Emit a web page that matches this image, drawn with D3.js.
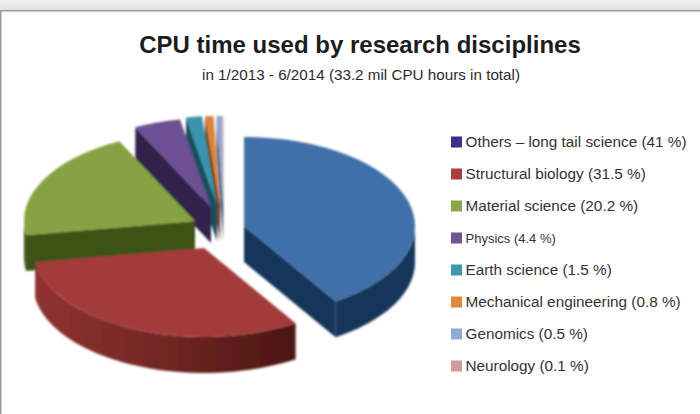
<!DOCTYPE html>
<html>
<head>
<meta charset="utf-8">
<script src="https://cdn.jsdelivr.net/npm/d3@7"></script>
<style>
    html, body { margin: 0; padding: 0; background: #fff; }
    svg { display: block; }
    text { font-family: "Liberation Sans", Arial, sans-serif; }
</style>
</head>
<body>
<svg width="700" height="414"></svg>
<script>
// Chart data
var categories = ["Others \u2013 long tail science", "Structural biology", "Material science", "Physics",
    "Earth science", "Mechanical engineering", "Genomics", "Neurology"];
var shares = [41, 31.5, 20.2, 4.4, 1.5, 0.8, 0.5, 0.1];
var legendColors = ["#3b2f8e", "#a83f3d", "#8aa64a", "#725495", "#3f97af", "#df873b", "#92a9d2", "#d39a99"];
var topColors = ["#3f6fa9", "#a33b3a", "#87a243", "#6d4f93", "#3a93ad", "#dc8238", "#8fa8d0", "#d19392"];
var wallColors = ["#17345a", "url(#redWall)", "#3e5219", "#32214c", "#174f5e", "#6d3f12", "#44587c", "#6d4645"];

// Each slice was pulled out of the pie by hand in the original, so each has its own apex
var apexX = [244, 204, 195, 211, 217, 220, 223, 223.5];
var apexY = [226, 248, 221, 207, 205, 205, 205, 205];

// Pie geometry
var rx = 171;
var ry = 89;
var depth = 36;

var svg = d3.select("svg");

var defs = svg.append("defs");
var redWall = defs.append("linearGradient").attr("id", "redWall");
redWall.append("stop").attr("offset", "0%").attr("stop-color", "#8f3331");
redWall.append("stop").attr("offset", "45%").attr("stop-color", "#742826");
redWall.append("stop").attr("offset", "100%").attr("stop-color", "#4c1512");
defs.append("filter").attr("id", "soft")
    .append("feGaussianBlur").attr("stdDeviation", 1);

var topBand = defs.append("linearGradient").attr("id", "topBand").attr("x2", 0).attr("y2", 1);
topBand.append("stop").attr("offset", "0%").attr("stop-color", "#f1f1f1");
topBand.append("stop").attr("offset", "100%").attr("stop-color", "#e0e0e0");

// Frame of the slide
svg.append("rect").attr("width", 700).attr("height", 10).attr("fill", "url(#topBand)");
svg.append("rect").attr("y", 10).attr("width", 700).attr("height", 1.5).attr("fill", "#9b9b9b");
svg.append("rect").attr("y", 10).attr("width", 1.5).attr("height", 404).attr("fill", "#9b9b9b");

svg.append("text")
    .attr("x", 360).attr("y", 53)
    .attr("text-anchor", "middle")
    .attr("font-size", 24).attr("font-weight", "bold").attr("fill", "#1c1c1e")
    .text("CPU time used by research disciplines");

svg.append("text")
    .attr("x", 361).attr("y", 80)
    .attr("text-anchor", "middle")
    .attr("font-size", 15).attr("fill", "#2a2a2a")
    .attr("textLength", 318).attr("lengthAdjust", "spacingAndGlyphs")
    .text("in 1/2013 - 6/2014 (33.2 mil CPU hours in total)");

var slices = d3.pie().sort(null)(shares);
var arc = d3.arc().innerRadius(0).outerRadius(rx);
var line = d3.line();

function rimPoint(a) {
    return [rx * Math.sin(a), -ry * Math.cos(a)];
}

// Outer wall, only the part of the rim that faces the viewer
function outerWall(a0, a1) {
    var from = Math.max(a0, Math.PI / 2);
    var to = Math.min(a1, 3 * Math.PI / 2);
    if (from >= to) return null;
    var pts = d3.range(0, 41).map(function (i) {
        return rimPoint(from + (to - from) * i / 40);
    });
    var lower = pts.slice().reverse().map(function (p) { return [p[0], p[1] + depth]; });
    return line(pts.concat(lower)) + "Z";
}

function radialWall(a) {
    var p = rimPoint(a);
    return line([[0, 0], p, [p[0], p[1] + depth], [0, depth]]) + "Z";
}

var pie = svg.append("g").attr("filter", "url(#soft)");

// Back to front: the thin slices first, the red one last since it covers the green wall
var drawOrder = [7, 6, 5, 4, 3, 2, 0, 1];

pie.selectAll(".slice")
    .data(drawOrder)
    .enter()
    .append("g")
    .attr("class", "slice")
    .attr("transform", function (i) { return "translate(" + apexX[i] + "," + apexY[i] + ")"; })
    .each(function (i) {
        var g = d3.select(this);
        var s = slices[i];
        var wall = wallColors[i];

        if (s.startAngle >= Math.PI) {
            g.append("path").attr("d", radialWall(s.startAngle)).attr("fill", wall);
        }
        if (s.endAngle <= Math.PI) {
            g.append("path").attr("d", radialWall(s.endAngle)).attr("fill", wall);
        }
        var outer = outerWall(s.startAngle, s.endAngle);
        if (outer) {
            g.append("path").attr("d", outer).attr("fill", wall);
        }
        g.append("path")
            .attr("d", arc(s))
            .attr("transform", "scale(1," + (ry / rx) + ")")
            .attr("fill", topColors[i]);
    });

// Legend
var legendY = d3.scalePoint().domain(categories).range([142, 366]);

var legend = svg.selectAll(".legend")
    .data(categories)
    .enter()
    .append("g")
    .attr("class", "legend")
    .attr("transform", function (d) { return "translate(451," + legendY(d) + ")"; });

legend.append("rect")
    .attr("y", -5.5)
    .attr("width", 11).attr("height", 11)
    .attr("fill", function (d, i) { return legendColors[i]; });

legend.append("text")
    .attr("x", 14.5).attr("y", 5)
    .attr("font-size", function (d) { return d === "Physics" ? 13 : 15.3; })
    .attr("fill", "#333")
    .text(function (d, i) { return d + " (" + shares[i] + " %)"; });
</script>
</body>
</html>
